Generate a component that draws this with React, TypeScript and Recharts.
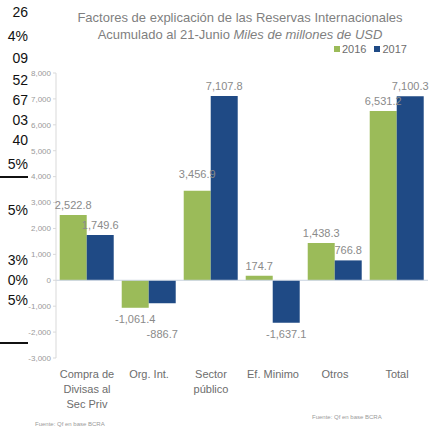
import { Bar, BarChart, LabelList, ReferenceLine, XAxis, YAxis } from "recharts";

const categories = ["Compra de|Divisas al|Sec Priv", "Org. Int.", "Sector|público", "Ef. Minimo", "Otros", "Total"];
const values2016 = [2522.8, -1061.4, 3456.9, 174.7, 1438.3, 6531.2];
const values2017 = [1749.6, -886.7, 7107.8, -1637.1, 766.8, 7100.3];
const yTicks = [-3000, -2000, -1000, 0, 1000, 2000, 3000, 4000, 5000, 6000, 7000, 8000];

// cropped fragments of a neighbouring table on the left edge
const edgeTexts = ["26", "4%", "09", "52", "67", "03", "40", "5%", "5%", "3%", "0%", "5%"];
const edgeTop = [4, 28, 50, 72, 92, 112, 132, 156, 202, 252, 272, 292];

const data = categories.map((c, i) => ({ name: c, y2016: values2016[i], y2017: values2017[i] }));

const GREEN = "#9bbb59";
const BLUE = "#1f4a85";
const FONT = "'Liberation Sans', Arial, sans-serif";

const fmt = (v: number) =>
  v.toLocaleString("en-US", { minimumFractionDigits: 1, maximumFractionDigits: 1 });

// extra nudges where the original labels were moved to avoid overlap
const nudge2016: Record<number, number> = { 2: -7 };
const nudge2017: Record<number, number> = { 1: 20 };

function makeLabel(nudge: Record<number, number>) {
  return (props: any) => {
    const { x, y, width, height, value, index } = props;
    const top = Math.min(y, y + height);
    const bottom = Math.max(y, y + height);
    const extra = nudge[index] ?? 0;
    const ty = value >= 0 ? top - 6 + extra : bottom + 15 + extra;
    return (
      <text x={x + width / 2} y={ty} textAnchor="middle" fill="#8a8a8a" fontSize={11} fontFamily={FONT}>
        {fmt(value)}
      </text>
    );
  };
}

function CatTick({ x, y, payload }: any) {
  const lines = String(payload.value).split("|");
  return (
    <text x={x} y={y} textAnchor="middle" fill="#6d6d6d" fontSize={11} fontFamily={FONT}>
      {lines.map((l, i) => (
        <tspan key={i} x={x} dy={i === 0 ? 12 : 15}>
          {l}
        </tspan>
      ))}
    </text>
  );
}

export default function App() {
  return (
    <div style={{ position: "absolute", left: 0, top: 0, width: 447, height: 430, background: "#fff", fontFamily: FONT }}>
      {edgeTexts.map((t, i) => (
        <div key={i} style={{ position: "absolute", left: 0, top: edgeTop[i], fontSize: 14, color: "#111", width: 28, textAlign: "right", lineHeight: "16px" }}>
          {t}
        </div>
      ))}
      <div style={{ position: "absolute", left: 0, top: 176, width: 28, height: 2, background: "#111" }} />
      <div style={{ position: "absolute", left: 0, top: 342, width: 28, height: 2, background: "#111" }} />

      <div style={{ position: "absolute", left: 40, width: 400, top: 9, textAlign: "center", color: "#7f7f7f", fontSize: 13, lineHeight: "17px" }}>
        <div>Factores de explicación de las Reservas Internacionales</div>
        <div>
          Acumulado al 21-Junio <i>Miles de millones de USD</i>
        </div>
      </div>

      <div style={{ position: "absolute", left: 334, top: 43, fontSize: 11, color: "#6d6d6d", display: "flex", gap: 8, alignItems: "center" }}>
        <span style={{ display: "flex", alignItems: "center", gap: 2 }}>
          <span style={{ width: 6, height: 6, background: GREEN, display: "inline-block" }} />
          2016
        </span>
        <span style={{ display: "flex", alignItems: "center", gap: 2 }}>
          <span style={{ width: 6, height: 6, background: BLUE, display: "inline-block" }} />
          2017
        </span>
      </div>

      <div style={{ position: "absolute", left: 0, top: 0 }}>
        <BarChart
          width={447}
          height={430}
          data={data}
          margin={{ top: 73, right: 19, bottom: 12, left: 6 }}
          barCategoryGap="6%"
          barGap={0}
        >
          <YAxis
            domain={[-3000, 8000]}
            ticks={yTicks}
            interval={0}
            width={50}
            tickFormatter={(v: number) => v.toLocaleString("en-US")}
            tick={{ fontSize: 8, fill: "#9a9a9a", fontFamily: FONT }}
            axisLine={{ stroke: "#d9d9d9" }}
            tickLine={{ stroke: "#d9d9d9" }}
            tickSize={3}
          />
          <XAxis
            dataKey="name"
            height={60}
            axisLine={false}
            tickLine={false}
            tick={<CatTick />}
            interval={0}
          />
          <ReferenceLine y={0} stroke="#c9d3e0" />
          <Bar dataKey="y2016" fill={GREEN} isAnimationActive={false}>
            <LabelList dataKey="y2016" content={makeLabel(nudge2016)} />
          </Bar>
          <Bar dataKey="y2017" fill={BLUE} isAnimationActive={false}>
            <LabelList dataKey="y2017" content={makeLabel(nudge2017)} />
          </Bar>
        </BarChart>
      </div>

      <div style={{ position: "absolute", left: 35, top: 421, fontSize: 6, color: "#9a9a9a" }}>Fuente: Qf en base BCRA</div>
      <div style={{ position: "absolute", left: 312, top: 414, fontSize: 6, color: "#9a9a9a" }}>Fuente: Qf en base BCRA</div>
    </div>
  );
}
